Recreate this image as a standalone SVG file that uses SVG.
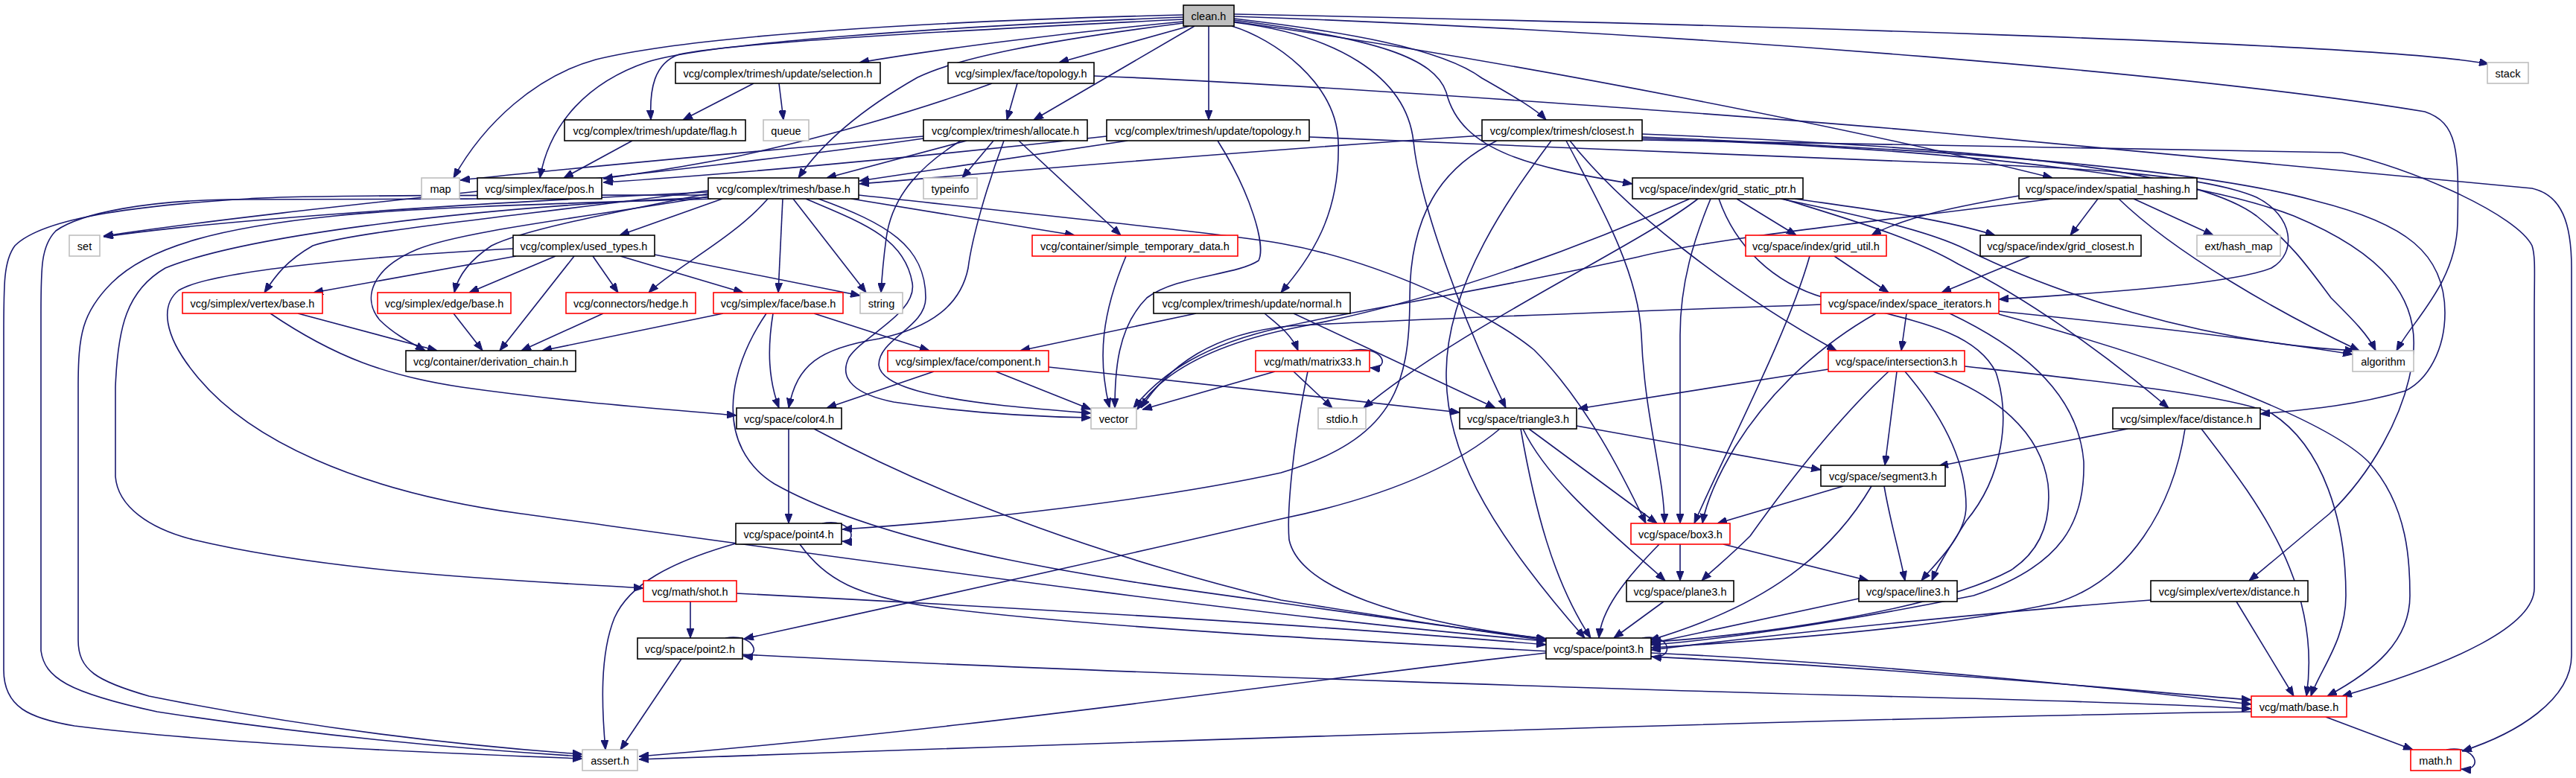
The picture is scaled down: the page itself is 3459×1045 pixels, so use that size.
<svg xmlns="http://www.w3.org/2000/svg" width="3459" height="1045" viewBox="0 0 3459 1045">
<style>
.n rect{fill:#fff;stroke:#000;stroke-width:1.6}
.g rect{fill:#fff;stroke:#bfbfbf;stroke-width:1.6}
.r rect{fill:#fff;stroke:#ff0000;stroke-width:1.6}
.c rect{fill:#bfbfbf;stroke:#000;stroke-width:1.6}
text{font-family:"Liberation Sans",Arial,sans-serif;font-size:14.5px;text-anchor:middle;fill:#000}
#edges path{fill:none;stroke:#191970;stroke-width:1.6;marker-end:url(#a)}
</style>
<defs>
<marker id="a" markerWidth="13" markerHeight="10" refX="13" refY="5" orient="auto" markerUnits="userSpaceOnUse"><path d="M0,0 L13,5 L0,10 z" fill="#191970" stroke="#191970" stroke-width="1"/></marker>
</defs>
<rect width="3459" height="1045" fill="#fff"/>
<g id="edges">
<path d="M1589,20 C1250,28 930,48 800,80 C720,102 650,165 609,239"/>
<path d="M1589,23 C1260,36 950,58 870,83 C790,110 738,165 725,239"/>
<path d="M1589,26 C1300,40 985,57 912,73 C878,85 872,120 874,161"/>
<path d="M1589,29 C1420,45 1260,66 1154,84"/>
<path d="M1597,35 L1422,84"/>
<path d="M1604,35 L1388,161"/>
<path d="M1623,35 L1623,161"/>
<path d="M1589,31 C1400,55 1285,78 1232,104 C1160,145 1105,190 1072,239"/>
<path d="M1657,25 C1800,42 1935,64 1990,105 C2030,128 2062,146 2076,161"/>
<path d="M1657,27 C1850,52 1926,78 1942,124 C1962,205 2060,225 2192,247"/>
<path d="M1657,29 C2050,85 2500,175 2756,239"/>
<path d="M1657,19 C2300,32 3200,58 3342,86"/>
<path d="M1657,22 C2300,45 2950,100 3256,150 C3300,165 3302,200 3300,300 C3298,380 3240,430 3218,471"/>
<path d="M1657,30 C1790,46 1888,100 1898,190 C1906,270 1960,420 2022,548"/>
<path d="M1654,35 C1710,52 1794,110 1797,190 C1800,290 1760,345 1720,393"/>
<path d="M1012,112 L917,161"/>
<path d="M1046,112 L1052,161"/>
<path d="M1332,112 C1230,150 1100,186 990,210 C900,228 850,234 810,240"/>
<path d="M1366,112 L1352,161"/>
<path d="M1469,102 C1800,115 2400,160 2590,177 C2900,205 3200,235 3400,253 C3440,262 3453,300 3453,360 L3453,880 C3453,940 3380,985 3306,1009"/>
<path d="M849,189 L757,239"/>
<path d="M1240,183 C1000,205 800,222 618,242"/>
<path d="M1298,189 L1110,239"/>
<path d="M1334,189 L1292,239"/>
<path d="M1290,189 C1240,220 1198,260 1190,320 C1186,350 1184,375 1183,393"/>
<path d="M1368,189 L1505,316"/>
<path d="M1240,186 C900,235 420,275 139,317"/>
<path d="M1348,189 C1325,250 1305,320 1300,360 C1290,410 1250,440 1180,455 C1100,468 1070,490 1059,548"/>
<path d="M1486,183 C1200,215 950,236 810,245"/>
<path d="M1514,189 L1154,243"/>
<path d="M1635,189 C1680,260 1700,330 1690,350 C1660,370 1580,370 1540,400 C1500,440 1497,500 1497,548"/>
<path d="M1758,184 C2000,195 2400,210 2590,218 C2800,225 2960,235 3030,265 C3080,290 3085,340 3050,360 C3000,380 2850,392 2684,402"/>
<path d="M1990,182 C1600,208 1300,235 1154,247"/>
<path d="M2010,189 C1935,225 1893,290 1893,400 C1893,520 1870,590 1720,635 C1550,672 1300,700 1131,711"/>
<path d="M2083,189 C2030,260 1943,380 1942,500 C1941,600 1990,700 2128,857"/>
<path d="M2103,189 C2140,260 2200,360 2204,450 C2208,560 2235,640 2235,703"/>
<path d="M2108,189 C2180,280 2320,390 2466,471"/>
<path d="M2205,180 C2700,200 2950,230 3030,290 C3080,330 3100,360 3130,400 C3160,430 3180,450 3190,471"/>
<path d="M2205,184 C2600,200 2950,225 3110,270 C3230,300 3283,340 3283,420 C3283,470 3260,510 3230,525 C3160,545 3100,550 3035,556"/>
<path d="M2205,186 C2650,200 2950,240 3080,290 C3200,340 3250,400 3240,480 C3230,560 3180,640 3128,690 C3080,730 3045,760 3020,780"/>
<path d="M2205,188 C2700,195 3000,200 3145,205 C3250,230 3380,290 3400,330 C3405,345 3403,370 3403,420 L3403,790 C3403,840 3300,890 3145,935"/>
<path d="M970,267 L832,316"/>
<path d="M1031,267 C985,320 905,360 871,393"/>
<path d="M1051,267 L1045,393"/>
<path d="M1065,267 L1163,393"/>
<path d="M1082,267 C1160,300 1215,320 1225,380 C1232,420 1160,450 1140,480 C1125,510 1150,530 1200,540 C1300,555 1400,560 1465,561"/>
<path d="M1099,267 C1190,300 1243,330 1243,400 C1243,440 1180,455 1180,490 C1182,520 1260,535 1350,545 C1400,550 1440,553 1465,555"/>
<path d="M1143,267 L1443,316"/>
<path d="M1153,262 C1500,300 1650,315 1720,327 C1850,350 2000,420 2060,470 C2130,540 2180,640 2210,703"/>
<path d="M951,258 C600,275 300,295 139,318"/>
<path d="M951,262 C700,262 400,262 333,267 C200,275 60,290 20,330 C5,350 5,380 5,450 L5,900 C5,950 40,965 100,975 C300,1000 600,1012 782,1019"/>
<path d="M645,267 C500,268 350,268 305,268 C200,270 110,285 75,310 C55,330 55,360 55,420 L55,874 C60,910 90,930 211,956 C400,985 600,1005 782,1016"/>
<path d="M955,267 C800,272 560,278 450,290 C300,305 200,330 150,380 C110,420 105,450 105,520 L105,860 C105,900 130,915 200,935 C400,975 600,1000 782,1013"/>
<path d="M951,265 C600,280 320,320 222,360 C170,390 158,440 155,520 L155,640 C158,680 200,710 260,725 C450,770 700,780 864,790"/>
<path d="M951,256 C700,290 480,310 420,330 C385,350 370,370 355,393"/>
<path d="M951,260 C800,290 700,310 660,330 C630,350 615,370 610,393"/>
<path d="M951,264 C800,290 620,310 560,335 C500,360 485,400 510,430 C530,450 555,462 571,471"/>
<path d="M693,344 L421,393"/>
<path d="M746,344 L630,393"/>
<path d="M771,344 L671,471"/>
<path d="M796,344 L830,393"/>
<path d="M833,344 L998,393"/>
<path d="M879,342 L1155,397"/>
<path d="M689,334 C480,345 280,365 240,390 C215,410 220,450 260,500 C330,590 480,660 700,690 C1100,745 1700,830 2076,861"/>
<path d="M400,421 L587,471"/>
<path d="M363,421 C450,480 520,505 620,520 C760,540 900,550 989,558"/>
<path d="M609,421 L648,471"/>
<path d="M810,421 L700,471"/>
<path d="M971,421 L728,471"/>
<path d="M1093,421 L1248,471"/>
<path d="M1038,421 C1030,470 1032,510 1046,548"/>
<path d="M1029,421 C975,500 960,600 1040,650 C1200,740 1500,780 1720,810 C1900,835 2000,850 2076,858"/>
<path d="M1512,344 C1480,420 1473,480 1490,548"/>
<path d="M1606,421 L1370,471"/>
<path d="M1698,421 C1715,435 1735,450 1743,471"/>
<path d="M1737,421 L2008,548"/>
<path d="M2445,409 C2200,418 1900,428 1730,438 C1630,448 1570,490 1532,548"/>
<path d="M2519,421 C2450,460 2380,520 2330,600 C2300,650 2290,680 2286,703"/>
<path d="M2684,418 C2900,440 3060,460 3159,476"/>
<path d="M2560,421 L2553,471"/>
<path d="M2618,421 C2700,460 2790,520 2798,620 C2800,700 2770,760 2650,800 C2450,840 2300,860 2217,866"/>
<path d="M2684,422 C2900,480 3120,560 3180,620 C3235,680 3236,760 3236,800 C3236,860 3190,900 3125,935"/>
<path d="M2430,344 C2400,450 2320,600 2275,703"/>
<path d="M2463,344 L2536,393"/>
<path d="M2269,267 C2150,320 1950,400 1740,440 C1630,462 1560,500 1527,550"/>
<path d="M2280,267 C2200,330 1960,440 1831,548"/>
<path d="M2297,267 C2275,320 2256,380 2256,450 L2256,703"/>
<path d="M2332,267 L2412,316"/>
<path d="M2308,267 C2330,330 2380,380 2450,400 C2560,430 2650,440 2680,500 C2700,560 2690,640 2640,700 C2615,740 2602,760 2594,780"/>
<path d="M2391,267 C2500,290 2590,310 2640,335 C2750,390 2950,460 3162,471"/>
<path d="M2394,267 C2500,300 2570,320 2630,355 C2720,400 2820,470 2912,548"/>
<path d="M2410,267 C2500,280 2600,292 2679,316"/>
<path d="M2817,267 L2780,316"/>
<path d="M2865,267 L2972,316"/>
<path d="M2845,267 C2920,340 3060,420 3168,471"/>
<path d="M2711,263 C2640,275 2560,290 2513,316"/>
<path d="M2756,267 C2500,300 2300,320 2200,345 C2000,390 1800,420 1720,440 C1620,462 1560,500 1522,548"/>
<path d="M2726,344 L2607,393"/>
<path d="M2455,496 L2119,549"/>
<path d="M2547,499 L2531,625"/>
<path d="M2536,499 C2470,560 2400,650 2350,720 C2320,750 2300,765 2285,780"/>
<path d="M2558,499 C2610,560 2640,620 2640,680 C2640,720 2600,755 2580,780"/>
<path d="M2596,499 C2680,530 2740,580 2750,650 C2755,700 2740,740 2700,766 C2600,820 2350,855 2217,862"/>
<path d="M2638,492 C2800,510 2990,530 3050,555 C3120,600 3150,700 3150,800 C3150,860 3115,900 3103,935"/>
<path d="M2857,576 L2603,626"/>
<path d="M2934,576 C2918,680 2860,780 2760,810 C2600,845 2350,862 2217,870"/>
<path d="M2956,576 C3020,660 3120,780 3097,935"/>
<path d="M2888,806 C2700,820 2400,850 2217,873"/>
<path d="M3003,808 L3080,935"/>
<path d="M2475,653 L2306,703"/>
<path d="M2530,653 C2538,700 2550,740 2558,780"/>
<path d="M2513,653 C2450,760 2350,820 2215,860"/>
<path d="M2256,731 L2256,780"/>
<path d="M2314,731 L2509,780"/>
<path d="M2228,731 C2180,780 2150,820 2147,857"/>
<path d="M2234,808 L2167,857"/>
<path d="M2496,804 L2217,864"/>
<path d="M1737,499 L1789,548"/>
<path d="M1712,499 L1534,550"/>
<path d="M1756,499 C1735,600 1728,690 1731,725 C1745,790 1880,835 2076,858"/>
<path d="M1812,471 C1860,462 1868,497 1840,494"/>
<path d="M1254,499 L1110,548"/>
<path d="M1337,499 L1465,550"/>
<path d="M1408,493 L1960,554"/>
<path d="M1059,576 L1059,703"/>
<path d="M1093,576 C1250,660 1450,740 1720,806 C1900,835 2000,850 2076,860"/>
<path d="M2117,572 L2445,631"/>
<path d="M2053,576 L2225,703"/>
<path d="M2045,576 C2080,650 2170,720 2236,780"/>
<path d="M2042,576 C2060,680 2085,780 2136,857"/>
<path d="M2014,576 C1950,630 1850,670 1720,697 C1450,760 1150,825 999,858"/>
<path d="M1104,703 C1145,695 1153,729 1131,727"/>
<path d="M988,730 C900,755 845,785 825,830 C805,880 808,950 813,1007"/>
<path d="M1074,731 C1110,780 1150,800 1250,815 C1600,860 2300,880 2590,905 C2800,920 2950,935 3023,940"/>
<path d="M927,808 L927,857"/>
<path d="M989,797 C1400,818 1800,842 2076,866"/>
<path d="M974,857 C1015,850 1023,884 998,881"/>
<path d="M915,885 L833,1007"/>
<path d="M997,879 C1500,905 2300,930 2600,937 C2800,942 2950,948 3023,952"/>
<path d="M2205,857 C2245,850 2249,886 2218,882"/>
<path d="M2076,877 C1700,920 1300,980 858,1016"/>
<path d="M2217,877 C2500,890 2850,925 3023,946"/>
<path d="M3123,963 L3240,1007"/>
<path d="M3023,956 C2500,964 1700,990 858,1020"/>
<path d="M3285,1007 C3326,1000 3336,1036 3305,1033"/>
</g>
<g id="clean" class="c"><rect x="1589" y="7" width="68" height="28"/><text x="1623" y="26.5">clean.h</text></g>
<g id="sel" class="n"><rect x="907" y="84" width="275" height="28"/><text x="1044.5" y="103.5">vcg/complex/trimesh/update/selection.h</text></g>
<g id="ftopo" class="n"><rect x="1273" y="84" width="196" height="28"/><text x="1371" y="103.5">vcg/simplex/face/topology.h</text></g>
<g id="stack" class="g"><rect x="3340" y="84" width="55" height="28"/><text x="3367.5" y="103.5">stack</text></g>
<g id="flag" class="n"><rect x="758" y="161" width="243" height="28"/><text x="879.5" y="180.5">vcg/complex/trimesh/update/flag.h</text></g>
<g id="queue" class="g"><rect x="1025" y="161" width="61" height="28"/><text x="1055.5" y="180.5">queue</text></g>
<g id="alloc" class="n"><rect x="1240" y="161" width="220" height="28"/><text x="1350" y="180.5">vcg/complex/trimesh/allocate.h</text></g>
<g id="utopo" class="n"><rect x="1486" y="161" width="272" height="28"/><text x="1622" y="180.5">vcg/complex/trimesh/update/topology.h</text></g>
<g id="closest" class="n"><rect x="1990" y="161" width="215" height="28"/><text x="2097.5" y="180.5">vcg/complex/trimesh/closest.h</text></g>
<g id="map" class="g"><rect x="566" y="239" width="51" height="28"/><text x="591.5" y="258.5">map</text></g>
<g id="pos" class="n"><rect x="641" y="239" width="167" height="28"/><text x="724.5" y="258.5">vcg/simplex/face/pos.h</text></g>
<g id="tbase" class="n"><rect x="951" y="239" width="202" height="28"/><text x="1052" y="258.5">vcg/complex/trimesh/base.h</text></g>
<g id="typeinfo" class="g"><rect x="1240" y="239" width="72" height="28"/><text x="1276" y="258.5">typeinfo</text></g>
<g id="gsp" class="n"><rect x="2192" y="239" width="229" height="28"/><text x="2306.5" y="258.5">vcg/space/index/grid_static_ptr.h</text></g>
<g id="sh" class="n"><rect x="2711" y="239" width="239" height="28"/><text x="2830.5" y="258.5">vcg/space/index/spatial_hashing.h</text></g>
<g id="set" class="g"><rect x="93" y="316" width="41" height="28"/><text x="113.5" y="335.5">set</text></g>
<g id="used" class="n"><rect x="689" y="316" width="190" height="28"/><text x="784" y="335.5">vcg/complex/used_types.h</text></g>
<g id="std" class="r"><rect x="1386" y="316" width="276" height="28"/><text x="1524" y="335.5">vcg/container/simple_temporary_data.h</text></g>
<g id="gutil" class="r"><rect x="2344" y="316" width="189" height="28"/><text x="2438.5" y="335.5">vcg/space/index/grid_util.h</text></g>
<g id="gclose" class="n"><rect x="2659" y="316" width="216" height="28"/><text x="2767" y="335.5">vcg/space/index/grid_closest.h</text></g>
<g id="hash" class="g"><rect x="2950" y="316" width="112" height="28"/><text x="3006" y="335.5">ext/hash_map</text></g>
<g id="vbase" class="r"><rect x="245" y="393" width="188" height="28"/><text x="339" y="412.5">vcg/simplex/vertex/base.h</text></g>
<g id="ebase" class="r"><rect x="507" y="393" width="179" height="28"/><text x="596.5" y="412.5">vcg/simplex/edge/base.h</text></g>
<g id="hedge" class="r"><rect x="760" y="393" width="174" height="28"/><text x="847" y="412.5">vcg/connectors/hedge.h</text></g>
<g id="fbase" class="r"><rect x="958" y="393" width="174" height="28"/><text x="1045" y="412.5">vcg/simplex/face/base.h</text></g>
<g id="string" class="g"><rect x="1155" y="393" width="57" height="28"/><text x="1183.5" y="412.5">string</text></g>
<g id="normal" class="n"><rect x="1549" y="393" width="264" height="28"/><text x="1681" y="412.5">vcg/complex/trimesh/update/normal.h</text></g>
<g id="siter" class="r"><rect x="2445" y="393" width="239" height="28"/><text x="2564.5" y="412.5">vcg/space/index/space_iterators.h</text></g>
<g id="dchain" class="n"><rect x="545" y="471" width="228" height="28"/><text x="659" y="490.5">vcg/container/derivation_chain.h</text></g>
<g id="fcomp" class="r"><rect x="1192" y="471" width="216" height="28"/><text x="1300" y="490.5">vcg/simplex/face/component.h</text></g>
<g id="m33" class="r"><rect x="1686" y="471" width="153" height="28"/><text x="1762.5" y="490.5">vcg/math/matrix33.h</text></g>
<g id="inter" class="r"><rect x="2455" y="471" width="183" height="28"/><text x="2546.5" y="490.5">vcg/space/intersection3.h</text></g>
<g id="algo" class="g"><rect x="3159" y="471" width="82" height="28"/><text x="3200" y="490.5">algorithm</text></g>
<g id="color4" class="n"><rect x="989" y="548" width="141" height="28"/><text x="1059.5" y="567.5">vcg/space/color4.h</text></g>
<g id="vector" class="g"><rect x="1465" y="548" width="61" height="28"/><text x="1495.5" y="567.5">vector</text></g>
<g id="stdio" class="g"><rect x="1770" y="548" width="64" height="28"/><text x="1802" y="567.5">stdio.h</text></g>
<g id="tri3" class="n"><rect x="1960" y="548" width="157" height="28"/><text x="2038.5" y="567.5">vcg/space/triangle3.h</text></g>
<g id="fdist" class="n"><rect x="2837" y="548" width="198" height="28"/><text x="2936" y="567.5">vcg/simplex/face/distance.h</text></g>
<g id="seg3" class="n"><rect x="2445" y="625" width="167" height="28"/><text x="2528.5" y="644.5">vcg/space/segment3.h</text></g>
<g id="point4" class="n"><rect x="988" y="703" width="142" height="28"/><text x="1059" y="722.5">vcg/space/point4.h</text></g>
<g id="box3" class="r"><rect x="2190" y="703" width="133" height="28"/><text x="2256.5" y="722.5">vcg/space/box3.h</text></g>
<g id="shot" class="r"><rect x="864" y="780" width="125" height="28"/><text x="926.5" y="799.5">vcg/math/shot.h</text></g>
<g id="plane3" class="n"><rect x="2184" y="780" width="144" height="28"/><text x="2256" y="799.5">vcg/space/plane3.h</text></g>
<g id="line3" class="n"><rect x="2496" y="780" width="132" height="28"/><text x="2562" y="799.5">vcg/space/line3.h</text></g>
<g id="vdist" class="n"><rect x="2888" y="780" width="211" height="28"/><text x="2993.5" y="799.5">vcg/simplex/vertex/distance.h</text></g>
<g id="point2" class="n"><rect x="856" y="857" width="141" height="28"/><text x="926.5" y="876.5">vcg/space/point2.h</text></g>
<g id="point3" class="n"><rect x="2076" y="857" width="141" height="28"/><text x="2146.5" y="876.5">vcg/space/point3.h</text></g>
<g id="mbase" class="r"><rect x="3023" y="935" width="128" height="28"/><text x="3087" y="954.5">vcg/math/base.h</text></g>
<g id="assert" class="g"><rect x="782" y="1007" width="74" height="28"/><text x="819" y="1026.5">assert.h</text></g>
<g id="math" class="r"><rect x="3237" y="1007" width="67" height="28"/><text x="3270.5" y="1026.5">math.h</text></g>
</svg>
